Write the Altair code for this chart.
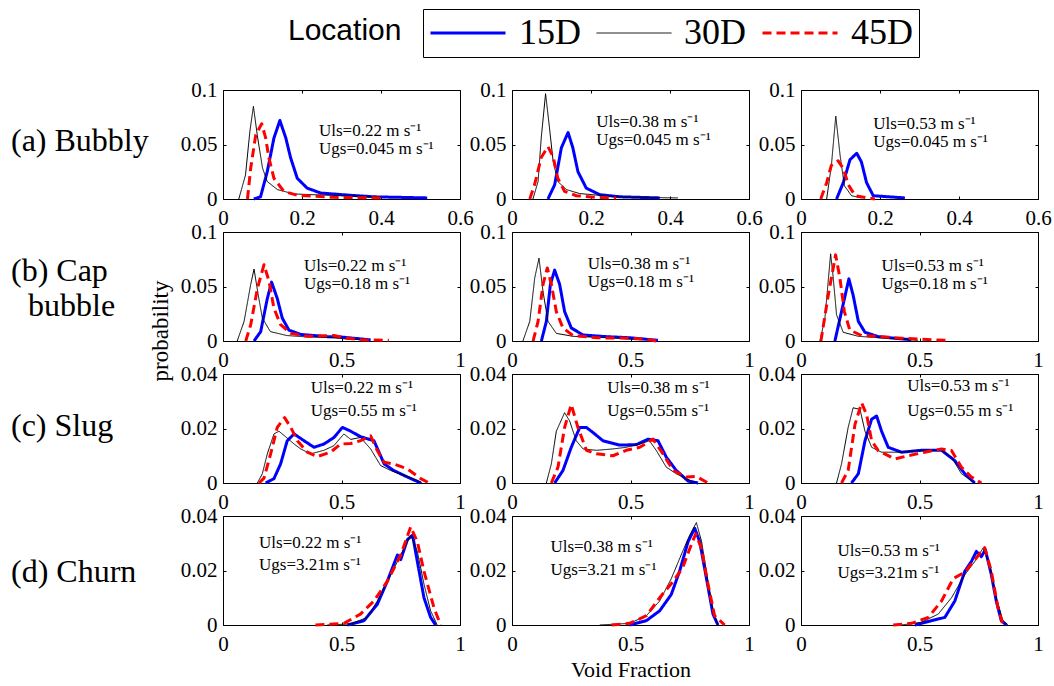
import altair as alt
import pandas as pd

SERIF = "Liberation Serif"
SANS = "Liberation Sans"

LOCATIONS = ["15D", "30D", "45D"]
LINE_COLORS = ["#0000ff", "#000000", "#ff0000"]
LINE_WIDTHS = [3, 1, 3]
LINE_DASHES = [[1, 0], [1, 0], [9, 5]]

# ---------------- (a) Bubbly ----------------
a1_15_x = [0.078, 0.095, 0.112, 0.129, 0.144, 0.159, 0.171, 0.188, 0.213, 0.247, 0.323, 0.382, 0.517]
a1_15_y = [0.0, 0.002, 0.025, 0.056, 0.072, 0.056, 0.038, 0.019, 0.010, 0.0055, 0.0034, 0.002, 0.001]
a1_30_x = [0.040, 0.057, 0.068, 0.077, 0.087, 0.100, 0.112, 0.138, 0.180, 0.300, 0.400]
a1_30_y = [0.0, 0.022, 0.062, 0.085, 0.058, 0.0285, 0.016, 0.0086, 0.0046, 0.003, 0.002]
a1_45_x = [0.062, 0.070, 0.083, 0.098, 0.108, 0.116, 0.129, 0.154, 0.188, 0.280, 0.400]
a1_45_y = [0.0, 0.028, 0.059, 0.069, 0.056, 0.038, 0.019, 0.007, 0.0034, 0.0015, 0.001]

a2_15_x = [0.091, 0.108, 0.125, 0.142, 0.154, 0.167, 0.188, 0.222, 0.273, 0.374]
a2_15_y = [0.0, 0.013, 0.047, 0.061, 0.047, 0.025, 0.010, 0.004, 0.002, 0.001]
a2_30_x = [0.053, 0.066, 0.074, 0.085, 0.095, 0.104, 0.116, 0.138, 0.171, 0.240, 0.300, 0.420]
a2_30_y = [0.0, 0.016, 0.056, 0.0966, 0.065, 0.035, 0.016, 0.0086, 0.005, 0.0028, 0.0015, 0.001]
a2_45_x = [0.045, 0.057, 0.074, 0.091, 0.104, 0.116, 0.133, 0.163, 0.213, 0.264]
a2_45_y = [0.0, 0.013, 0.038, 0.048, 0.039, 0.019, 0.007, 0.003, 0.0015, 0.001]

a3_15_x = [0.090, 0.107, 0.124, 0.141, 0.153, 0.166, 0.183, 0.263]
a3_15_y = [0.0, 0.015, 0.036, 0.042, 0.034, 0.015, 0.003, 0.001]
a3_30_x = [0.065, 0.077, 0.088, 0.099, 0.110, 0.128, 0.153]
a3_30_y = [0.0, 0.031, 0.076, 0.040, 0.012, 0.003, 0.001]
a3_45_x = [0.050, 0.065, 0.077, 0.094, 0.107, 0.120, 0.137, 0.187]
a3_45_y = [0.0, 0.015, 0.031, 0.035, 0.028, 0.013, 0.003, 0.0]

# ---------------- (b) Cap bubble ----------------
b1_15_x = [0.131, 0.159, 0.187, 0.205, 0.229, 0.250, 0.278, 0.328, 0.440, 0.497, 0.553, 0.623]
b1_15_y = [0.0, 0.0086, 0.039, 0.054, 0.039, 0.021, 0.010, 0.006, 0.004, 0.0037, 0.0025, 0.001]
b1_30_x = [0.060, 0.089, 0.117, 0.131, 0.148, 0.166, 0.200, 0.270, 0.356, 0.468, 0.510, 0.610]
b1_30_y = [0.0, 0.018, 0.052, 0.066, 0.043, 0.021, 0.0086, 0.005, 0.0037, 0.003, 0.002, 0.001]
b1_45_x = [0.096, 0.117, 0.145, 0.173, 0.194, 0.215, 0.243, 0.286, 0.356, 0.468, 0.525, 0.580, 0.700]
b1_45_y = [0.0, 0.015, 0.048, 0.070, 0.055, 0.030, 0.015, 0.007, 0.0043, 0.005, 0.0025, 0.0012, 0.0006]

b2_15_x = [0.124, 0.145, 0.162, 0.180, 0.201, 0.222, 0.250, 0.300, 0.398, 0.496, 0.616]
b2_15_y = [0.0, 0.018, 0.052, 0.065, 0.052, 0.027, 0.012, 0.0055, 0.004, 0.003, 0.0006]
b2_30_x = [0.046, 0.075, 0.096, 0.114, 0.131, 0.152, 0.187, 0.257, 0.356, 0.454, 0.525]
b2_30_y = [0.0, 0.018, 0.058, 0.076, 0.045, 0.018, 0.007, 0.0043, 0.0034, 0.0025, 0.0012]
b2_45_x = [0.089, 0.110, 0.131, 0.149, 0.166, 0.187, 0.215, 0.257, 0.356, 0.496, 0.567, 0.610]
b2_45_y = [0.0, 0.018, 0.052, 0.067, 0.052, 0.027, 0.012, 0.005, 0.003, 0.0025, 0.0015, 0.0]

b3_15_x = [0.143, 0.171, 0.202, 0.220, 0.242, 0.270, 0.326, 0.396, 0.466]
b3_15_y = [0.0, 0.027, 0.057, 0.042, 0.018, 0.008, 0.004, 0.0025, 0.0012]
b3_30_x = [0.080, 0.101, 0.125, 0.136, 0.150, 0.178, 0.242, 0.326, 0.424, 0.494]
b3_30_y = [0.0, 0.021, 0.080, 0.058, 0.024, 0.008, 0.0043, 0.003, 0.0018, 0.0006]
b3_45_x = [0.084, 0.115, 0.146, 0.164, 0.183, 0.206, 0.256, 0.340, 0.424, 0.614]
b3_45_y = [0.0, 0.042, 0.079, 0.058, 0.027, 0.010, 0.005, 0.004, 0.0025, 0.0006]

# ---------------- (c) Slug ----------------
c1_15_x = [0.180, 0.215, 0.243, 0.271, 0.300, 0.342, 0.384, 0.426, 0.468, 0.504, 0.539, 0.580, 0.637, 0.680, 0.720, 0.778, 0.834]
c1_15_y = [0.0, 0.0016, 0.007, 0.0155, 0.018, 0.0155, 0.0131, 0.0143, 0.0167, 0.0204, 0.019, 0.017, 0.0155, 0.007, 0.0046, 0.0022, 0.0]
c1_30_x = [0.145, 0.166, 0.187, 0.215, 0.236, 0.264, 0.300, 0.328, 0.370, 0.426, 0.468, 0.510, 0.539, 0.580, 0.623, 0.665, 0.707, 0.764, 0.820, 0.840]
c1_30_y = [0.0, 0.0034, 0.0107, 0.018, 0.019, 0.017, 0.0143, 0.0125, 0.0107, 0.012, 0.0137, 0.018, 0.016, 0.0167, 0.0125, 0.0064, 0.0046, 0.0028, 0.001, 0.0]
c1_45_x = [0.152, 0.173, 0.201, 0.229, 0.260, 0.286, 0.314, 0.356, 0.398, 0.454, 0.496, 0.539, 0.580, 0.623, 0.651, 0.680, 0.720, 0.778, 0.834, 0.870]
c1_45_y = [0.0, 0.0018, 0.0107, 0.0204, 0.024, 0.0204, 0.0155, 0.0113, 0.0097, 0.0113, 0.0143, 0.0145, 0.0155, 0.0173, 0.0119, 0.0076, 0.007, 0.0052, 0.0016, 0.0]

c2_15_x = [0.180, 0.215, 0.250, 0.286, 0.314, 0.349, 0.384, 0.454, 0.525, 0.574, 0.616, 0.651, 0.693, 0.743, 0.785]
c2_15_y = [0.0, 0.0046, 0.0131, 0.0204, 0.0204, 0.018, 0.0155, 0.0139, 0.0141, 0.0161, 0.0155, 0.0095, 0.0046, 0.0007, 0.0]
c2_30_x = [0.145, 0.166, 0.187, 0.222, 0.243, 0.271, 0.300, 0.356, 0.426, 0.482, 0.539, 0.580, 0.609, 0.651, 0.693, 0.736, 0.778]
c2_30_y = [0.0, 0.007, 0.019, 0.0258, 0.0228, 0.0155, 0.0125, 0.012, 0.0125, 0.0131, 0.0143, 0.0155, 0.0119, 0.0058, 0.0034, 0.0016, 0.0]
c2_45_x = [0.166, 0.194, 0.222, 0.250, 0.278, 0.314, 0.356, 0.426, 0.482, 0.539, 0.595, 0.637, 0.680, 0.736, 0.778, 0.827]
c2_45_y = [0.0, 0.0058, 0.0204, 0.0288, 0.0204, 0.012, 0.0107, 0.010, 0.012, 0.0131, 0.0161, 0.0107, 0.0046, 0.0022, 0.0024, 0.0]

c3_15_x = [0.213, 0.242, 0.270, 0.298, 0.319, 0.340, 0.368, 0.424, 0.508, 0.593, 0.649, 0.691, 0.733]
c3_15_y = [0.0, 0.0034, 0.0155, 0.0234, 0.0246, 0.019, 0.0131, 0.0113, 0.012, 0.012, 0.0082, 0.0034, 0.0]
c3_30_x = [0.150, 0.171, 0.199, 0.220, 0.249, 0.270, 0.298, 0.340, 0.424, 0.508, 0.593, 0.635, 0.677, 0.733]
c3_30_y = [0.0, 0.007, 0.0204, 0.0276, 0.027, 0.019, 0.0131, 0.0113, 0.0113, 0.012, 0.012, 0.0095, 0.0034, 0.0]
c3_45_x = [0.171, 0.199, 0.228, 0.256, 0.277, 0.298, 0.326, 0.396, 0.452, 0.522, 0.593, 0.635, 0.677, 0.719, 0.761]
c3_45_y = [0.0, 0.0046, 0.0216, 0.0294, 0.025, 0.0155, 0.0119, 0.0088, 0.010, 0.0113, 0.0125, 0.0119, 0.0058, 0.0022, 0.0]

# ---------------- (d) Churn ----------------
d1_15_x = [0.525, 0.595, 0.651, 0.693, 0.736, 0.750, 0.778, 0.800, 0.820, 0.848, 0.876, 0.897]
d1_15_y = [0.0, 0.0016, 0.0076, 0.016, 0.0257, 0.024, 0.0313, 0.033, 0.0233, 0.010, 0.0028, 0.0]
d1_30_x = [0.440, 0.539, 0.609, 0.651, 0.693, 0.750, 0.792, 0.820, 0.848, 0.876, 0.904]
d1_30_y = [0.0, 0.0004, 0.0028, 0.0088, 0.016, 0.0257, 0.033, 0.027, 0.015, 0.0052, 0.0]
d1_45_x = [0.390, 0.510, 0.580, 0.637, 0.693, 0.750, 0.792, 0.820, 0.848, 0.890, 0.918]
d1_45_y = [0.0, 0.0006, 0.004, 0.0088, 0.016, 0.0257, 0.036, 0.0306, 0.0197, 0.0064, 0.0]

d2_15_x = [0.496, 0.567, 0.623, 0.672, 0.707, 0.743, 0.771, 0.792, 0.820, 0.848, 0.869]
d2_15_y = [0.0, 0.0016, 0.0052, 0.0112, 0.0197, 0.0306, 0.0355, 0.0306, 0.0173, 0.004, 0.0]
d2_30_x = [0.370, 0.496, 0.567, 0.623, 0.672, 0.720, 0.750, 0.778, 0.800, 0.827, 0.848, 0.869]
d2_30_y = [0.0, 0.0006, 0.0034, 0.0088, 0.017, 0.027, 0.033, 0.0376, 0.0306, 0.016, 0.0052, 0.0]
d2_45_x = [0.420, 0.496, 0.567, 0.623, 0.680, 0.720, 0.750, 0.775, 0.800, 0.827, 0.855, 0.897]
d2_45_y = [0.0, 0.0006, 0.0034, 0.010, 0.016, 0.021, 0.028, 0.0334, 0.028, 0.0149, 0.0034, 0.0]

d3_15_x = [0.480, 0.551, 0.607, 0.649, 0.691, 0.719, 0.740, 0.761, 0.778, 0.803, 0.824, 0.845, 0.867]
d3_15_y = [0.0, 0.0016, 0.0028, 0.0088, 0.0197, 0.0233, 0.027, 0.0251, 0.0276, 0.0185, 0.0088, 0.0016, 0.0]
d3_30_x = [0.424, 0.508, 0.579, 0.635, 0.691, 0.733, 0.768, 0.796, 0.824, 0.852, 0.874]
d3_30_y = [0.0, 0.001, 0.004, 0.010, 0.0184, 0.0233, 0.0282, 0.0221, 0.010, 0.0016, 0.0]
d3_45_x = [0.389, 0.466, 0.537, 0.593, 0.642, 0.691, 0.733, 0.775, 0.803, 0.831, 0.852]
d3_45_y = [0.0, 0.0006, 0.0028, 0.0088, 0.017, 0.0194, 0.0239, 0.0284, 0.0197, 0.0064, 0.0]

SERIES = {
    "a1": [(a1_15_x, a1_15_y), (a1_30_x, a1_30_y), (a1_45_x, a1_45_y)],
    "a2": [(a2_15_x, a2_15_y), (a2_30_x, a2_30_y), (a2_45_x, a2_45_y)],
    "a3": [(a3_15_x, a3_15_y), (a3_30_x, a3_30_y), (a3_45_x, a3_45_y)],
    "b1": [(b1_15_x, b1_15_y), (b1_30_x, b1_30_y), (b1_45_x, b1_45_y)],
    "b2": [(b2_15_x, b2_15_y), (b2_30_x, b2_30_y), (b2_45_x, b2_45_y)],
    "b3": [(b3_15_x, b3_15_y), (b3_30_x, b3_30_y), (b3_45_x, b3_45_y)],
    "c1": [(c1_15_x, c1_15_y), (c1_30_x, c1_30_y), (c1_45_x, c1_45_y)],
    "c2": [(c2_15_x, c2_15_y), (c2_30_x, c2_30_y), (c2_45_x, c2_45_y)],
    "c3": [(c3_15_x, c3_15_y), (c3_30_x, c3_30_y), (c3_45_x, c3_45_y)],
    "d1": [(d1_15_x, d1_15_y), (d1_30_x, d1_30_y), (d1_45_x, d1_45_y)],
    "d2": [(d2_15_x, d2_15_y), (d2_30_x, d2_30_y), (d2_45_x, d2_45_y)],
    "d3": [(d3_15_x, d3_15_y), (d3_30_x, d3_30_y), (d3_45_x, d3_45_y)],
}

ROW_KEYS = ["a", "b", "c", "d"]
ROW_LABELS = [["(a) Bubbly"], ["(b) Cap", "bubble"], ["(c) Slug"], ["(d) Churn"]]
ULS_TEXT = ["Uls=0.22 m s\u207b\u00b9", "Uls=0.38 m s\u207b\u00b9", "Uls=0.53 m s\u207b\u00b9"]
UGS_TEXT = [
    ["Ugs=0.045 m s\u207b\u00b9"] * 3,
    ["Ugs=0.18 m s\u207b\u00b9"] * 3,
    ["Ugs=0.55 m s\u207b\u00b9", "Ugs=0.55m s\u207b\u00b9", "Ugs=0.55 m s\u207b\u00b9"],
    ["Ugs=3.21m s\u207b\u00b9", "Ugs=3.21 m s\u207b\u00b9", "Ugs=3.21m s\u207b\u00b9"],
]
X_TICKS = [[0, 0.2, 0.4, 0.6], [0, 0.5, 1], [0, 0.5, 1], [0, 0.5, 1]]
Y_TICKS = [[0, 0.05, 0.1], [0, 0.05, 0.1], [0, 0.02, 0.04], [0, 0.02, 0.04]]

# where the two flow-rate lines sit inside each panel (data units: x, upper y, lower y)
NOTE_AT = {
    "a1": (0.243, 0.0625, 0.0455), "a2": (0.213, 0.0710, 0.0540), "a3": (0.183, 0.0690, 0.0520),
    "b1": (0.342, 0.0690, 0.0520), "b2": (0.320, 0.0710, 0.0540), "b3": (0.340, 0.0690, 0.0520),
    "c1": (0.370, 0.0349, 0.0264), "c2": (0.402, 0.0349, 0.0264), "c3": (0.448, 0.0355, 0.0264),
    "d1": (0.152, 0.0300, 0.0221), "d2": (0.162, 0.0288, 0.0203), "d3": (0.154, 0.0270, 0.0191),
}

# row captions, pixel offsets from the left/top corner of the first panel in each row
ROW_LABEL_AT = [[(-212, 51)], [(-212, 39), (-195, 74)], [(-212, 52)], [(-212, 56)]]

PANEL_W, PANEL_H = 237, 109

legend = alt.Legend(
    title=None, orient="none", legendX=200, legendY=-81, direction="horizontal",
    symbolType="stroke", symbolSize=5625, clipHeight=36,
    labelFont=SERIF, labelFontSize=36, labelColor="black",
    labelOffset=12, columnPadding=15, padding=6, strokeColor="black",
)


def axis(orient, values, show_labels, pad, title=None, **extra):
    return alt.Axis(
        orient=orient, values=values, labels=show_labels, format="~g",
        labelFont=SERIF, labelFontSize=21, labelColor="black", labelPadding=pad,
        labelFlush=False, labelOverlap=False, domain=False, grid=False,
        ticks=True, tickSize=3, tickColor="black", offset=-3, title=title, **extra,
    )


def caption(text, px, py, size, angle=0, font=SERIF, align="left"):
    return alt.Chart(pd.DataFrame({"t": [text]})).mark_text(
        align=align, baseline="middle", font=font, fontSize=size, color="black", angle=angle
    ).encode(x=alt.value(px), y=alt.value(py), text="t:N")


def make_panel(r, c):
    key = f"{ROW_KEYS[r]}{c + 1}"
    rows = []
    for loc, (xs, ys) in zip(LOCATIONS, SERIES[key]):
        for i, (xv, yv) in enumerate(zip(xs, ys)):
            rows.append({"Location": loc, "x": xv, "y": yv, "i": i})
    df = pd.DataFrame(rows)

    xmax = X_TICKS[r][-1]
    ymax = Y_TICKS[r][-1]
    xscale = alt.Scale(domain=[0, xmax], nice=False, zero=False)
    yscale = alt.Scale(domain=[0, ymax], nice=False, zero=False)

    x_extra = {}
    x_title = None
    if r == 3 and c == 1:
        x_title = "Void Fraction"
        x_extra = dict(titleFont=SERIF, titleFontSize=22, titleFontWeight="normal",
                       titleColor="black", titlePadding=5)

    lines = alt.Chart(df).mark_line(strokeJoin="round").encode(
        x=alt.X("x:Q", scale=xscale, axis=axis("bottom", X_TICKS[r], True, 8, x_title, **x_extra)),
        y=alt.Y("y:Q", scale=yscale, axis=axis("left", Y_TICKS[r], True, 6)),
        color=alt.Color("Location:N", scale=alt.Scale(domain=LOCATIONS, range=LINE_COLORS), legend=legend),
        strokeDash=alt.StrokeDash("Location:N", scale=alt.Scale(domain=LOCATIONS, range=LINE_DASHES), legend=legend),
        strokeWidth=alt.StrokeWidth(
            "Location:N", scale=alt.Scale(type="ordinal", domain=LOCATIONS, range=LINE_WIDTHS), legend=legend
        ),
        order=alt.Order("i:Q"),
    )

    nx, ny1, ny2 = NOTE_AT[key]
    notes = pd.DataFrame({"x": [nx, nx], "y": [ny1, ny2], "t": [ULS_TEXT[c], UGS_TEXT[r][c]]})
    text = alt.Chart(notes).mark_text(
        align="left", baseline="middle", font=SERIF, fontSize=17, color="black"
    ).encode(
        x=alt.X("x:Q", scale=xscale, axis=axis("top", X_TICKS[r], False, 0)),
        y=alt.Y("y:Q", scale=yscale, axis=axis("right", Y_TICKS[r], False, 0)),
        text="t:N",
    )

    layers = [lines, text]
    if c == 0:
        for label, (px, py) in zip(ROW_LABELS[r], ROW_LABEL_AT[r]):
            layers.append(caption(label, px, py, 32))
    if r == 0 and c == 0:
        layers.append(caption("Location", 65, -59, 30, font=SANS))
    if r == 2 and c == 0:
        layers.append(caption("probability", -62, -43, 23, angle=270, align="center"))

    return alt.layer(*layers).resolve_scale(x="independent", y="independent").properties(
        width=PANEL_W, height=PANEL_H
    )


cells = [make_panel(r, c) for r in range(4) for c in range(3)]

chart = alt.concat(
    *cells, columns=3, spacing=alt.RowColnumber(row=33, column=52), bounds="flush"
).properties(
    padding={"left": 10, "top": 8, "right": 0, "bottom": 0}, background="white"
).configure_view(stroke="black", strokeWidth=1)

chart.save("out.html", embed_options={"renderer": "svg", "actions": False})
